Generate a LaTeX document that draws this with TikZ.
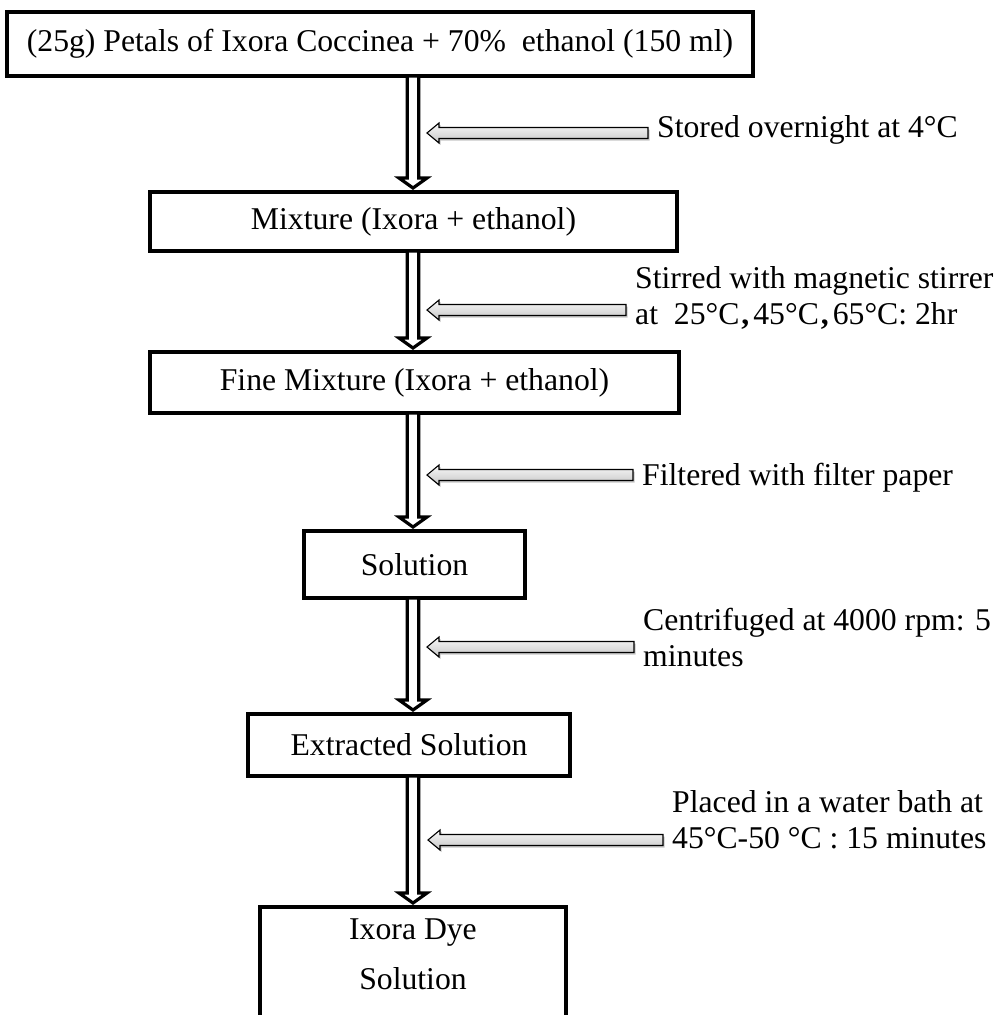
\documentclass[tikz,border=0pt]{standalone}
\usepackage{fontspec}
\setmainfont{Liberation Serif}
\usetikzlibrary{calc,shadows}
\newcommand\flowfont{\fontsize{31.7pt}{36pt}\selectfont}
\newcommand\flowarr[2]{%
  \path[flowarrow] let \p1=(#1.south), \p2=(#2.north), \p3=(ax) in
    (\x3-5.7pt,\y1+2pt) -- (\x3-5.7pt,\y2+12pt) -- (\x3-14pt,\y2+12pt) -- (\x3,\y2+2pt)
    -- (\x3+14pt,\y2+12pt) -- (\x3+5.7pt,\y2+12pt) -- (\x3+5.7pt,\y1+2pt) -- cycle;}
\newcommand\grayarr[2]{%
  \path[grayarrow] let \p1=(#2), \p2=(#1.west) in
    (\x1,\y1) -- (\x1+12pt,\y1+10pt) -- (\x1+12pt,\y1+5.5pt) -- (\x2-9pt,\y1+5.5pt)
    -- (\x2-9pt,\y1-5.5pt) -- (\x1+12pt,\y1-5.5pt) -- (\x1+12pt,\y1-10pt) -- cycle;}
\begin{document}
\begin{tikzpicture}[x=1pt,y=-1pt,
  box/.style={draw=black, line width=4pt, fill=white, inner sep=0pt, font=\flowfont, align=center},
  lab/.style={anchor=west, inner sep=0pt, font=\flowfont, align=left},
  flowarrow/.style={draw=black, fill=white, line width=3.2pt, line join=miter, miter limit=10},
  grayarrow/.style={draw=black, line width=1.1pt, top color=gray!5, bottom color=gray!45,
    drop shadow={shadow xshift=1.5pt, shadow yshift=-2pt, opacity=0.45, fill=gray}}]
\useasboundingbox (0,0) rectangle (999,1015);
\clip (0,0) rectangle (999,1015);
\coordinate (ax) at (413,0);
% boxes
\node[box, minimum width=746pt, minimum height=64pt] (b1) at (380,44)
  {(25g) Petals of Ixora Coccinea + 70\%\ \ ethanol (150 ml)};
\node[box, minimum width=527pt, minimum height=59pt] (b2) at (413.5,221.5)
  {Mixture (Ixora + ethanol)};
\node[box, minimum width=529pt, minimum height=61pt] (b3) at (414.5,382.5)
  {Fine Mixture (Ixora + ethanol)};
\node[box, minimum width=221pt, minimum height=67pt] (b4) at (414.5,564.5)
  {Solution};
\node[box, minimum width=322pt, minimum height=62pt] (b5) at (409,745)
  {Extracted Solution};
\node[box, minimum width=306pt, minimum height=151pt] (b6) at (413,982.5) {};
\node[font=\fontsize{31.7pt}{50pt}\selectfont, align=center, inner sep=0pt, anchor=north] (b6t) at (413,919)
  {Ixora Dye\\Solution};
% vertical arrows
\flowarr{b1}{b2}
\flowarr{b2}{b3}
\flowarr{b3}{b4}
\flowarr{b4}{b5}
\flowarr{b5}{b6}
% labels
\node[lab] (l1) at (657,130) {Stored overnight at 4°C};
\node[lab, anchor=north west] (l2) at (635,266)
  {Stirred with magnetic stirrer\\at\ \ 25°C\hspace{2pt}\textbf{,}\hspace{4pt}45°C\hspace{2pt}\textbf{,}\hspace{4pt}65°C: 2hr};
\node[lab] (l3) at (642,478) {Filtered with filter paper};
\node[lab, anchor=north west] (l4) at (643,608) {Centrifuged at 4000 rpm: 5\\minutes};
\node[lab, anchor=north west] (l5) at (672,790) {Placed in a water bath at\\45°C-50 °C : 15 minutes};
% gray arrows
\coordinate (t1) at (427,133);
\coordinate (t2) at (427,310);
\coordinate (t3) at (427,475);
\coordinate (t4) at (427,647);
\coordinate (t5) at (428,840);
\grayarr{l1}{t1}
\grayarr{l2}{t2}
\grayarr{l3}{t3}
\grayarr{l4}{t4}
\grayarr{l5}{t5}
\end{tikzpicture}
\end{document}
